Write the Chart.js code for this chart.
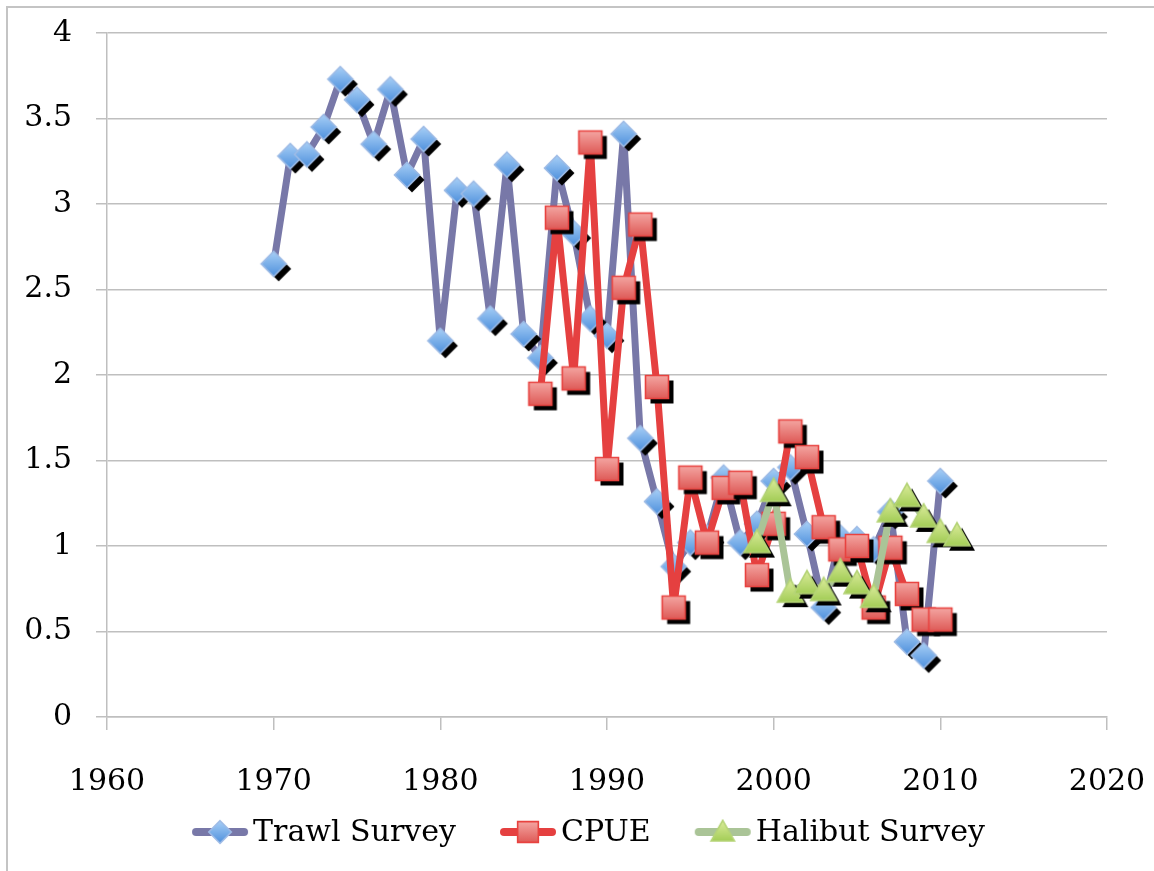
<!DOCTYPE html>
<html>
<head>
<meta charset="utf-8">
<script src="https://cdn.jsdelivr.net/npm/chart.js@4.4.1/dist/chart.umd.min.js"></script>
<style>
  html, body { margin: 0; padding: 0; background: #ffffff; }
  #wrap { position: relative; width: 1154px; height: 871px; }
</style>
</head>
<body>
<div id="wrap"><canvas id="chart" width="1154" height="871"></canvas></div>
<script>
// Survey years and relative abundance indices
const trawlYears = [1970, 1971, 1972, 1973, 1974, 1975, 1976, 1977, 1978, 1979, 1980, 1981, 1982, 1983, 1984, 1985, 1986, 1987, 1988, 1989, 1990, 1991, 1992, 1993, 1994, 1995, 1996, 1997, 1998, 1999, 2000, 2001, 2002, 2003, 2004, 2005, 2006, 2007, 2008, 2009, 2010];
const trawlValues = [2.65, 3.28, 3.29, 3.45, 3.73, 3.61, 3.35, 3.67, 3.17, 3.38, 2.20, 3.08, 3.06, 2.33, 3.23, 2.24, 2.10, 3.21, 2.83, 2.33, 2.23, 3.41, 1.63, 1.26, 0.88, 1.02, 1.05, 1.40, 1.02, 1.13, 1.38, 1.46, 1.07, 0.64, 1.05, 1.04, 0.98, 1.20, 0.44, 0.36, 1.38];

const cpueYears = [1986, 1987, 1988, 1989, 1990, 1991, 1992, 1993, 1994, 1995, 1996, 1997, 1998, 1999, 2000, 2001, 2002, 2003, 2004, 2005, 2006, 2007, 2008, 2009, 2010];
const cpueValues = [1.89, 2.92, 1.98, 3.36, 1.45, 2.51, 2.88, 1.93, 0.64, 1.40, 1.02, 1.34, 1.37, 0.83, 1.13, 1.67, 1.52, 1.11, 0.98, 1.00, 0.64, 0.99, 0.72, 0.57, 0.57];

const halibutYears = [1999, 2000, 2001, 2002, 2003, 2004, 2005, 2006, 2007, 2008, 2009, 2010, 2011];
const halibutValues = [1.02, 1.32, 0.73, 0.78, 0.74, 0.85, 0.78, 0.70, 1.20, 1.29, 1.17, 1.08, 1.06];

const seriesNames = ['Trawl Survey', 'CPUE', 'Halibut Survey'];
const yearTicks = [1960, 1970, 1980, 1990, 2000, 2010, 2020];

const FONT = '"DejaVu Serif", "Liberation Serif", serif';
const GRID = '#bfbfbf';

// Build a marker bitmap: optional hard black drop shadow, then the gradient shape
function makeMarker(kind, scale, shadow, lineColor) {
  const W = lineColor ? 58 : 40, H = lineColor ? 26 : 40;
  const c = document.createElement('canvas');
  c.width = W; c.height = H;
  const g = c.getContext('2d');
  const cx = W / 2, cy = H / 2;
  if (lineColor) {
    g.strokeStyle = lineColor; g.lineWidth = 8; g.lineCap = 'round';
    g.beginPath(); g.moveTo(5, cy); g.lineTo(W - 5, cy); g.stroke();
  }
  function path(ox, oy) {
    g.beginPath();
    if (kind === 'diamond') {
      const r = 12.5 * scale;
      g.moveTo(ox, oy - r); g.lineTo(ox + r, oy); g.lineTo(ox, oy + r); g.lineTo(ox - r, oy);
      g.closePath();
    } else if (kind === 'square') {
      const s = 11.5 * scale;
      g.rect(ox - s, oy - s, 2 * s, 2 * s);
    } else {
      const b = 13 * scale;
      g.moveTo(ox, oy - 13 * scale); g.lineTo(ox + b, oy + 10 * scale); g.lineTo(ox - b, oy + 10 * scale);
      g.closePath();
    }
  }
  if (shadow) {
    path(cx + 5, cy + 5);
    g.fillStyle = '#000'; g.fill();
  }
  const top = cy - 13 * scale, bot = cy + 13 * scale;
  const grad = g.createLinearGradient(0, top, 0, bot);
  let stroke;
  if (kind === 'diamond') {
    grad.addColorStop(0, '#a9d0f7'); grad.addColorStop(1, '#4d8fdc'); stroke = '#9dbbe6';
  } else if (kind === 'square') {
    grad.addColorStop(0, '#f5aaa6'); grad.addColorStop(1, '#dd5552'); stroke = '#e8423f';
  } else {
    grad.addColorStop(0, '#dcec9c'); grad.addColorStop(1, '#9cc94e'); stroke = '#b5d477';
  }
  path(cx, cy);
  g.fillStyle = grad; g.fill();
  g.lineWidth = 1.6; g.strokeStyle = stroke; g.stroke();
  return c;
}

const lineColors = ['#7878a8', '#e54040', '#aac497'];
const kinds = ['diamond', 'square', 'triangle'];
const pointImgs = kinds.map(k => makeMarker(k, 1, true));
const legendImgs = kinds.map((k, i) => makeMarker(k, 0.9, false, lineColors[i]));

function toPoints(xs, ys) { return xs.map((x, i) => ({ x: x, y: ys[i] })); }

// Outer frame lines and the legend row under the axis
const framePlugin = {
  id: 'frameAndLegend',
  afterDraw(chart) {
    const ctx = chart.ctx;
    ctx.save();
    ctx.strokeStyle = '#c4c4c4'; ctx.lineWidth = 2;
    ctx.beginPath();
    ctx.moveTo(7, 871); ctx.lineTo(7, 7); ctx.lineTo(1154, 7);
    ctx.stroke();

    ctx.font = '30px ' + FONT;
    ctx.fillStyle = '#000';
    ctx.textBaseline = 'middle';
    const iconW = 58, gapText = 4, gapItem = 43;
    const widths = seriesNames.map(n => iconW + gapText + ctx.measureText(n).width);
    const total = widths.reduce((a, b) => a + b, 0) + gapItem * (widths.length - 1);
    let x = 588 - total / 2;
    const y = 832;
    seriesNames.forEach((n, i) => {
      ctx.drawImage(legendImgs[i], x, y - legendImgs[i].height / 2);
      ctx.fillText(n, x + iconW + gapText, y + 1);
      x += widths[i] + gapItem;
    });
    ctx.restore();
  }
};

// Let the layout padding alone decide where the plot area sits
function noOverflow(scale) {
  scale.paddingTop = 0; scale.paddingBottom = 0;
  scale.paddingLeft = 0; scale.paddingRight = 0;
}

const commonDs = {
  borderWidth: 7,
  borderJoinStyle: 'round',
  pointRadius: 12,
  pointHoverRadius: 12,
  tension: 0,
  fill: false
};

new Chart(document.getElementById('chart'), {
  type: 'line',
  data: {
    datasets: [
      Object.assign({}, commonDs, {
        label: seriesNames[0], data: toPoints(trawlYears, trawlValues),
        borderColor: lineColors[0], pointStyle: pointImgs[0], order: 3
      }),
      Object.assign({}, commonDs, {
        label: seriesNames[1], data: toPoints(cpueYears, cpueValues),
        borderColor: lineColors[1], pointStyle: pointImgs[1], order: 2
      }),
      Object.assign({}, commonDs, {
        label: seriesNames[2], data: toPoints(halibutYears, halibutValues),
        borderColor: lineColors[2], pointStyle: pointImgs[2], order: 1
      })
    ]
  },
  options: {
    responsive: false,
    animation: false,
    events: [],
    layout: { padding: { top: 33, right: 47, bottom: 0, left: 0 } },
    plugins: { legend: { display: false }, tooltip: { enabled: false } },
    scales: {
      x: {
        type: 'linear', min: 1960, max: 2020,
        afterBuildTicks(scale) { scale.ticks = yearTicks.map(v => ({ value: v })); },
        afterFit(scale) { scale.height = 154; noOverflow(scale); },
        ticks: {
          padding: 34, maxRotation: 0, color: '#000',
          font: { family: FONT, size: 30 },
          callback: v => String(v)
        },
        grid: { drawOnChartArea: false, drawTicks: true, tickLength: 13, color: GRID, lineWidth: 1.5 },
        border: { color: GRID, width: 1.5 }
      },
      y: {
        min: 0, max: 4,
        afterFit(scale) { scale.width = 107; noOverflow(scale); },
        ticks: {
          stepSize: 0.5, padding: 24, color: '#000',
          font: { family: FONT, size: 30 },
          callback: v => String(v)
        },
        grid: { color: GRID, lineWidth: 1.5, tickLength: 11 },
        border: { color: GRID, width: 1.5 }
      }
    }
  },
  plugins: [framePlugin]
});
</script>
</body>
</html>
